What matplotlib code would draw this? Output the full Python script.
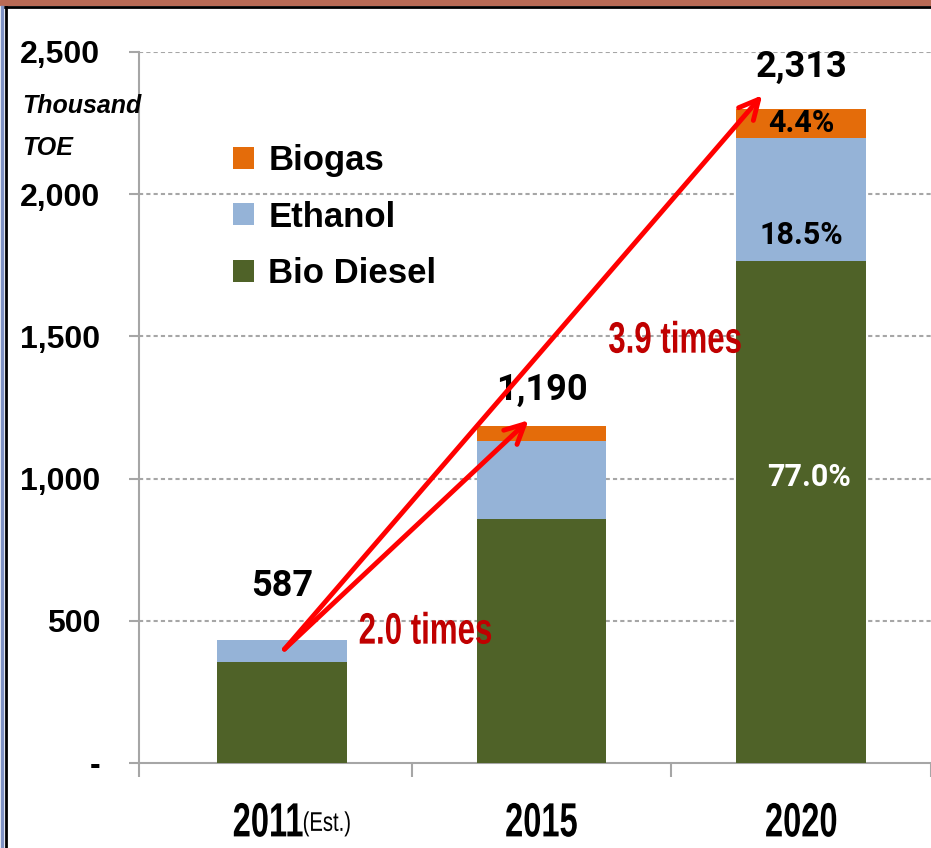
import matplotlib.pyplot as plt
import matplotlib.transforms as mtransforms
from matplotlib.lines import Line2D
from matplotlib.patches import Rectangle, PathPatch
from matplotlib.textpath import TextPath
from matplotlib.font_manager import FontProperties

years = ["2011", "2015", "2020"]
bio_diesel = [355, 857, 1764]
ethanol = [77, 274, 432]
biogas = [0, 53, 105]
totals = ["587", "1,190", "2,313"]
total_values = [587, 1190, 2313]
pct_2020 = ["77.0%", "18.5%", "4.4%"]
pct_y = [1005, 1855, 2250]
yticks = [0, 500, 1000, 1500, 2000, 2500]
ytick_labels = ["-", "500", "1,000", "1,500", "2,000", "2,500"]

C_DIESEL = "#4f6228"
C_ETH = "#95b3d7"
C_GAS = "#e46c0a"
ARIAL = ["Liberation Sans", "DejaVu Sans"]
ROUND = ["Roboto", "DejaVu Sans"]

fig = plt.figure(figsize=(9.31, 8.48), dpi=100)
W, H = 931.0, 848.0
ax = fig.add_axes([139 / W, (H - 763) / H, 792 / W, (763 - 52) / H])


def squeezed(x, y, s, px, color, sx, ha="center", weight="bold"):
    # condensed text: no narrow font installed, so squash a text path
    fp = FontProperties(family="Liberation Sans", weight=weight)
    tp = TextPath((0, 0), s, size=px, prop=fp)
    ext = tp.get_extents()
    dx = {"left": ext.x0, "center": ext.x0 + ext.width / 2, "right": ext.x1}[ha]
    cx, cy = ax.transData.transform((x, y))
    tr = (mtransforms.Affine2D().translate(-dx, -(ext.y0 + ext.height / 2))
          .scale(sx, 1).translate(cx, cy))
    fig.add_artist(PathPatch(tp, transform=tr, facecolor=color, lw=0, zorder=6))


x = list(range(len(years)))
b1 = ax.bar(x, bio_diesel, width=0.5, color=C_DIESEL, zorder=3, label="Bio Diesel")
b2 = ax.bar(x, ethanol, width=0.5, bottom=bio_diesel, color=C_ETH, zorder=3, label="Ethanol")
bot2 = [a + b for a, b in zip(bio_diesel, ethanol)]
b3 = ax.bar(x, biogas, width=0.5, bottom=bot2, color=C_GAS, zorder=3, label="Biogas")
tops = [a + b for a, b in zip(bot2, biogas)]

ax.set_xlim(-0.55, 2.5)
ax.set_ylim(0, 2500)
for y in yticks[1:]:
    ax.axhline(y, color="#a6a6a6", lw=1.5, ls=(0, (2, 1.5)), zorder=1)

for s in ["top", "right"]:
    ax.spines[s].set_visible(False)
for s in ["left", "bottom"]:
    ax.spines[s].set_color("#a6a6a6")
    ax.spines[s].set_linewidth(1.5)

ax.set_yticks(yticks)
ax.set_yticklabels(ytick_labels, fontsize=23, fontweight="bold", family=ARIAL)
ax.tick_params(axis="y", length=7, color="#a6a6a6", width=1.5, pad=21)
ax.set_xticks([-0.55, 0.5, 1.5, 2.5])
ax.set_xticklabels([])
ax.tick_params(axis="x", length=10, color="#a6a6a6", width=1.5)

# category labels
squeezed(0.08, -200, years[0], 48, "black", 0.68, ha="right")
squeezed(0.085, -214, "(Est.)", 27, "black", 0.75, ha="left", weight="normal")
for i in (1, 2):
    squeezed(i, -200, years[i], 48, "black", 0.68)

# totals above bars
offsets = [39, 26, 30]
for i in x:
    ax.annotate(totals[i], (i, tops[i]), xytext=(0, offsets[i]), textcoords="offset points",
                ha="center", va="center", fontsize=26, fontweight="bold", family=ROUND)

# shares inside 2020 bar
for lbl, y, c in zip(pct_2020, pct_y, ["white", "black", "black"]):
    ax.text(2.03 if c == "white" else 2, y, lbl, ha="center", va="center", fontsize=22,
            fontweight="bold", color=c, family=ROUND, zorder=4)

# growth arrows
start = (0.01, 400)
for i in (1, 2):
    ax.annotate("", xy=(i - 0.05 - 0.1 * (i == 2), total_values[i] + 15 + 20 * (i == 2)),
                xytext=start,
                arrowprops=dict(arrowstyle="->", color="#ff0000", lw=3.5,
                                mutation_scale=35, shrinkA=0, shrinkB=0),
                zorder=5)
squeezed(0.3, 475, "2.0 times", 44, "#c00000", 0.71, ha="left")
squeezed(1.26, 1498, "3.9 times", 44, "#c00000", 0.71, ha="left")

fig.text(22 / W, 1 - 94 / H, "Thousand\nTOE", ha="left", va="top", fontsize=18,
         fontstyle="italic", fontweight="bold", family=ARIAL, linespacing=1.95)

leg = ax.legend(handles=[b3, b2, b1], loc="upper left", bbox_to_anchor=(233 / W, 1 - 144 / H),
                bbox_transform=fig.transFigure, frameon=False,
                prop=FontProperties(family="Liberation Sans", weight="bold", size=25),
                handlelength=0.6, handleheight=0.6, handletextpad=0.42, labelspacing=0.68,
                borderpad=0, borderaxespad=0)

# frame around the slide
fig.patches.append(Rectangle((0, 1 - 5 / H), 1, 5 / H, transform=fig.transFigure,
                             color="#b86a55", zorder=0))
fig.lines.append(Line2D([5 / W, 1], [1 - 7 / H] * 2, transform=fig.transFigure,
                        color="black", lw=2))
fig.lines.append(Line2D([6 / W] * 2, [0, 1 - 7 / H], transform=fig.transFigure,
                        color="black", lw=2))
fig.lines.append(Line2D([1.5 / W] * 2, [0, 1 - 7 / H], transform=fig.transFigure,
                        color="#7f92c4", lw=2.5))

fig.savefig("out.png", dpi=100)
